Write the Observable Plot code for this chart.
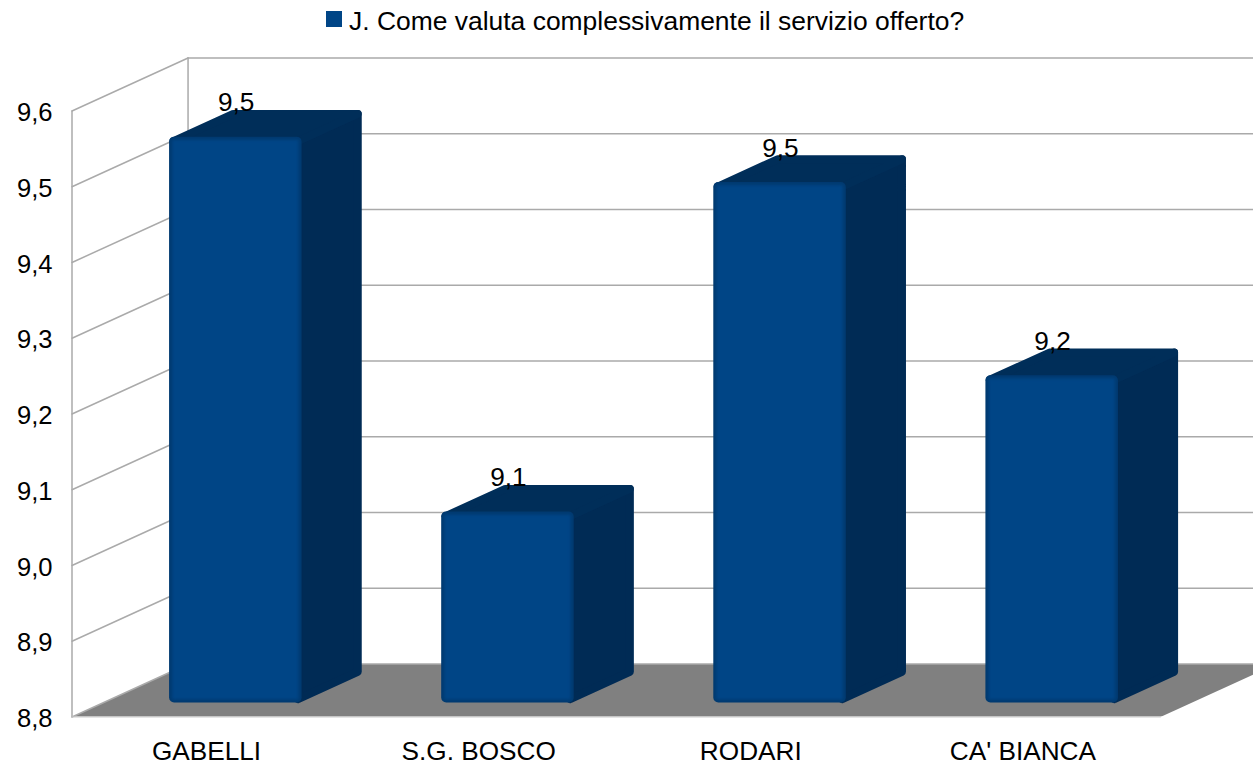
<!DOCTYPE html>
<html>
<head>
<meta charset="utf-8">
<script src="https://cdn.jsdelivr.net/npm/d3@7"></script>
<script src="https://cdn.jsdelivr.net/npm/@observablehq/plot@0.6"></script>
<style>
html,body{margin:0;padding:0;background:#fff;overflow:hidden}
#legend{position:relative;height:44px;font-family:"Liberation Sans",sans-serif;font-size:26.45px;color:#000}
#legend i{position:absolute;left:326px;top:11px;width:16px;height:16px;background:#004586}
#legend span{position:absolute;left:349px;top:6px;line-height:30px;white-space:nowrap}
</style>
</head>
<body>
<div id="legend"><i></i><span>J. Come valuta complessivamente il servizio offerto?</span></div>
<div id="chart"></div>
<script>
const categories = ["GABELLI", "S.G. BOSCO", "RODARI", "CA' BIANCA"];
const values = [9.547, 9.052, 9.487, 9.232];
const valueLabels = ["9,5", "9,1", "9,5", "9,2"];
const yTicks = [8.8, 8.9, 9.0, 9.1, 9.2, 9.3, 9.4, 9.5, 9.6];

// Oblique projection, in data units: a point at depth z (0 front, 1 back)
const Y_BASE = 8.8;
const DEPTH_X = 116 / 272, DEPTH_Y = 53 / 758;
const X_MAX = 4 + 93 / 272;
const Y_MAX = 9.6 + DEPTH_Y;
const BAR_GAP = 0.246, BAR_W = 0.487, Z_FRONT = 0.264, Z_BACK = 0.778;
const PX = 1 / 272, PY = 1 / 758, R = 4;

const px = (x, z) => x + z * DEPTH_X;
const py = (y, z) => y + z * DEPTH_Y;
const pt = (k, x, y, z, ox = 0, oy = 0) => ({k, x: px(x, z) + ox * PX, y: py(y, z) + oy * PY});

const bars = categories.map((name, i) => ({name, i, v: values[i], label: valueLabels[i],
  x1: i + BAR_GAP, x2: i + BAR_GAP + BAR_W}));

const sides = bars.flatMap(b => {
  const c = [pt(b.name, b.x2, Y_BASE, Z_FRONT, -R, R),
             pt(b.name, b.x2, Y_BASE, Z_BACK, -R, R),
             pt(b.name, b.x2, b.v, Z_BACK, -R, -R),
             pt(b.name, b.x2, b.v, Z_FRONT, -R, -R)];
  return [...c, c[0]];
});
const tops = bars.flatMap(b => {
  const c = [pt(b.name, b.x1, b.v, Z_FRONT, R, -R),
             pt(b.name, b.x1, b.v, Z_BACK, R, -R),
             pt(b.name, b.x2, b.v, Z_BACK, -R, -R),
             pt(b.name, b.x2, b.v, Z_FRONT, -R, -R)];
  return [...c, c[0]];
});
const floor = [pt("f", 0, Y_BASE, 0), pt("f", 4, Y_BASE, 0), pt("f", 4, Y_BASE, 1), pt("f", 0, Y_BASE, 1), pt("f", 0, Y_BASE, 0)];
const backGrid = yTicks.flatMap(v => [pt(v, 0, v, 1), {k: v, x: X_MAX, y: py(v, 1)}]);
const sideGrid = yTicks.flatMap(v => [pt(v, 0, v, 0), pt(v, 0, v, 1)]);
const verticals = [0, 1].flatMap(z => [pt(z, 0, 8.8, z), pt(z, 0, 9.6, z)]);
const frontEdge = [pt("e", 0, Y_BASE, 0), pt("e", 4, Y_BASE, 0)];

const GRID = "#aaaaaa", FONT = "Liberation Sans", TEXT_SIZE = 26.2;
const chart = Plot.plot({
  width: 1253, height: 722,
  marginLeft: 71.5, marginRight: 0, marginTop: 13.5, marginBottom: 49.5,
  style: {background: "transparent", fontFamily: FONT, overflow: "hidden"},
  x: {domain: [0, X_MAX], axis: null},
  y: {domain: [8.8, Y_MAX], axis: null},
  marks: [
    Plot.line(floor, {x: "x", y: "y", z: "k", fill: "#808080", stroke: "none", clip: true}),
    Plot.line(backGrid, {x: "x", y: "y", z: "k", stroke: GRID, strokeWidth: 1.6}),
    Plot.line(sideGrid, {x: "x", y: "y", z: "k", stroke: GRID, strokeWidth: 1.5}),
    Plot.line(verticals, {x: "x", y: "y", z: "k", stroke: GRID, strokeWidth: 1.5}),
    Plot.line(frontEdge, {x: "x", y: "y", z: "k", stroke: "#cccccc", strokeWidth: 1}),
    Plot.line(sides, {x: "x", y: "y", z: "k", fill: "#002b55", stroke: "#002b55", strokeWidth: 8, strokeLinejoin: "round"}),
    Plot.line(tops, {x: "x", y: "y", z: "k", fill: "#002e59", stroke: "#002e59", strokeWidth: 8, strokeLinejoin: "round"}),
    Plot.rect(bars, {x1: d => px(d.x1, Z_FRONT), x2: d => px(d.x2, Z_FRONT), y1: d => py(Y_BASE, Z_FRONT), y2: d => py(d.v, Z_FRONT), fill: "#003a70", rx: 5, inset: 0}),
    Plot.rect(bars, {x1: d => px(d.x1, Z_FRONT), x2: d => px(d.x2, Z_FRONT), y1: d => py(Y_BASE, Z_FRONT), y2: d => py(d.v, Z_FRONT), fill: "#004586", inset: 3, imageFilter: "blur(1.5px)"}),
    Plot.text(bars, {x: d => px(d.x1, Z_BACK) + 7 / 272, y: d => py(d.v, Z_BACK), text: "label", fill: "#000", fontSize: TEXT_SIZE, fontFamily: FONT, lineAnchor: "bottom", dy: 1.5}),
    Plot.axisY({ticks: yTicks, tickFormat: d => d.toFixed(1).replace(".", ","), tickSize: 0, tickPadding: 19.5, fontSize: 25.6, fontFamily: FONT, fill: "#000", label: null, dy: 2}),
    Plot.axisX({ticks: [0.5, 1.5, 2.5, 3.5], tickFormat: d => categories[Math.floor(d)], tickSize: 0, tickPadding: 24, fontSize: TEXT_SIZE, fontFamily: FONT, fill: "#000", label: null, dx: -1.5})
  ]
});
document.getElementById("chart").append(chart);
</script>
</body>
</html>
